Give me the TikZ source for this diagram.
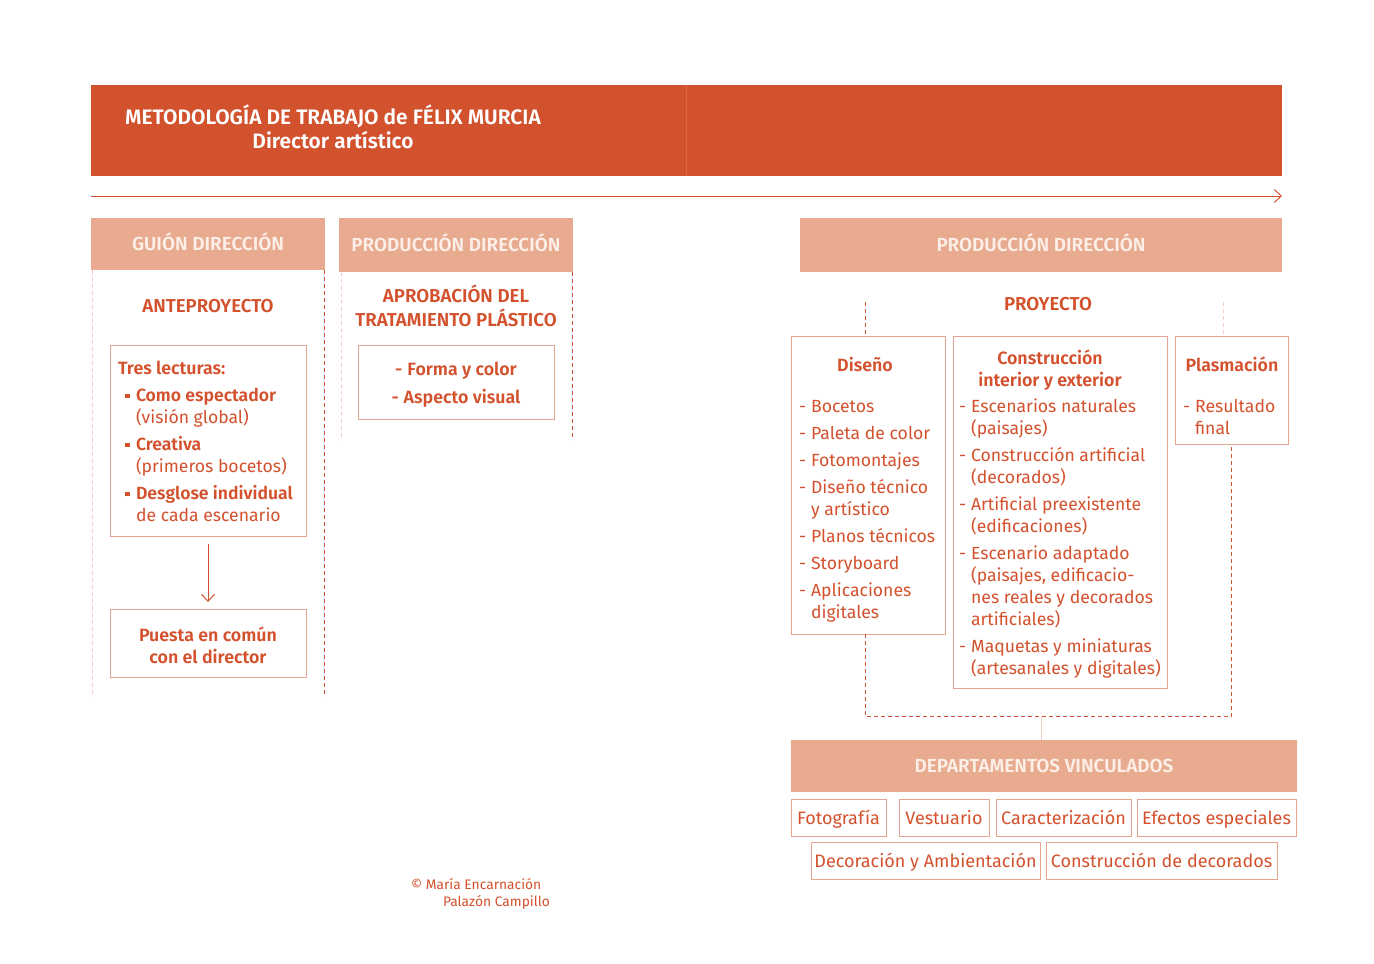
\documentclass[tikz,border=0pt]{standalone}
\usepackage{fontspec}
\setmainfont{Fira Sans}[BoldFont={Fira Sans SemiBold}]
\usetikzlibrary{arrows.meta}
\definecolor{dark}{HTML}{D3522E}
\definecolor{txt}{HTML}{D4512D}
\definecolor{salmon}{HTML}{E9AB8F}
\definecolor{bord}{HTML}{E4A48D}
\definecolor{pale}{HTML}{F2CFC2}
\definecolor{hdrtxt}{HTML}{FCEFE8}
\definecolor{divl}{HTML}{D9633F}
\newcommand{\mytab}[2][c]{\begin{tabular}[t]{@{}#1@{}}#2\end{tabular}}
\newcommand{\sq}{\rule[2.8pt]{4.5pt}{4.5pt}}
\tikzset{
  every node/.style={inner sep=0pt, outer sep=0pt},
  body/.style={font=\fontsize{17.6}{22}\selectfont, text=txt},
  bbody/.style={font=\bfseries\fontsize{17.8}{22}\selectfont, text=txt},
  caps/.style={font=\bfseries\fontsize{18.7}{22}\selectfont, text=txt},
  hd/.style={fill=salmon, draw=none, text=hdrtxt, font=\bfseries\fontsize{18.9}{20}\selectfont,
     text height=12.6pt, text depth=0pt, anchor=north west},
  wbox/.style={draw=bord, line width=1pt, fill=white, anchor=north west},
  dbox/.style={wbox, font=\fontsize{18}{22}\selectfont, text=txt, minimum height=37pt,
     text height=13pt, text depth=0pt},
  dk/.style={draw=dark, line width=1pt, dash pattern=on 4pt off 3pt},
  lt/.style={draw=pale, line width=1pt, dash pattern=on 4pt off 3pt},
  arr/.style={draw=dark, line width=1pt, -{Straight Barb[length=7pt,width=13pt,line width=1pt]}}
}
\begin{document}
\begin{tikzpicture}[x=1pt,y=-1pt]
\useasboundingbox[fill=white] (0,0) rectangle (1374,964);

% header
\node[fill=dark, minimum width=1191pt, minimum height=91pt, anchor=north west] (hdr) at (91,85) {};
\coordinate (dvt) at (686,85); \coordinate (dvb) at (686,176);
\draw[divl, line width=1pt] (dvt) -- (dvb);
\node[anchor=base, text=white, font=\bfseries\fontsize{20.9}{24}\selectfont] (title) at (333,124)
  {\mytab{METODOLOGÍA DE TRABAJO de FÉLIX MURCIA\\Director artístico}};

% time arrow
\coordinate (tl) at (91,196); \coordinate (tr) at (1282,196);
\draw[arr] (tl) -- (tr);

% column headers
\node[hd, minimum width=234pt, minimum height=52pt] (gd) at (91,218) {GUIÓN DIRECCIÓN};
\node[hd, minimum width=234pt, minimum height=54pt] (pd1) at (339,218) {PRODUCCIÓN DIRECCIÓN};
\node[hd, minimum width=482pt, minimum height=54pt] (pd2) at (800,218) {PRODUCCIÓN DIRECCIÓN};

% column guides
\coordinate (c1a) at (92,270); \coordinate (c1b) at (92,697);
\coordinate (c2a) at (324,270); \coordinate (c2b) at (324,697);
\coordinate (c3a) at (341,272); \coordinate (c3b) at (341,440);
\coordinate (c4a) at (572,272); \coordinate (c4b) at (572,440);
\draw[lt] (c1a) -- (c1b);
\draw[dk] (c2a) -- (c2b);
\draw[lt] (c3a) -- (c3b);
\draw[dk] (c4a) -- (c4b);

% column 1
\node[caps, anchor=base] (ante) at (208,312) {ANTEPROYECTO};
\node[wbox, minimum width=196pt, minimum height=191pt] (tres) at (110,345) {};
\node[bbody, anchor=base west] (tresT) at (118,374) {Tres lecturas:};
\node[body, anchor=base west] (tresL) at (125,401) {\begin{tabular}[t]{@{}l@{\hspace{6.5pt}}l@{}}
  \sq & \textbf{Como espectador}\\
      & (visión global)\\[5pt]
  \sq & \textbf{Creativa}\\
      & (primeros bocetos)\\[5pt]
  \sq & \textbf{Desglose individual}\\
      & de cada escenario
  \end{tabular}};
\node[wbox, minimum width=196pt, minimum height=68pt] (puesta) at (110,609) {};
\node[bbody, anchor=base] (puestaT) at (208,641) {\mytab{Puesta en común\\con el director}};
\draw[arr, shorten <=8pt, shorten >=7pt] (tres.south) -- (puesta.north);

% column 2
\node[caps, anchor=base] (aprob) at (456,302) {\mytab{APROBACIÓN DEL\\TRATAMIENTO PLÁSTICO}};
\node[wbox, minimum width=196pt, minimum height=74pt] (forma) at (358,345) {};
\node[bbody, anchor=base] (formaT) at (456,375) {\mytab{-\hspace{5pt}Forma y color\\[6pt]-\hspace{5pt}Aspecto visual}};

% right block
\node[caps, anchor=base] (proy) at (1048,310) {PROYECTO};
\node[wbox, minimum width=154pt, minimum height=298pt] (dis) at (791,336) {};
\node[wbox, minimum width=214pt, minimum height=352pt] (con) at (953,336) {};
\node[wbox, minimum width=113pt, minimum height=108pt] (pla) at (1175,336) {};

\node[bbody, anchor=base] (disT) at (865,371) {Diseño};
\node[bbody, anchor=base] (conT) at (1050,364) {\mytab{Construcción\\interior y exterior}};
\node[bbody, anchor=base] (plaT) at (1232,371) {Plasmación};

\node[body, anchor=base west] (disL) at (799,412) {\begin{tabular}[t]{@{}l@{\hspace{5pt}}l@{}}
  - & Bocetos\\[5pt]
  - & Paleta de color\\[5pt]
  - & Fotomontajes\\[5pt]
  - & Diseño técnico\\
    & y artístico\\[5pt]
  - & Planos técnicos\\[5pt]
  - & Storyboard\\[5pt]
  - & Aplicaciones\\
    & digitales
  \end{tabular}};
\node[body, anchor=base west] (conL) at (959,412) {\begin{tabular}[t]{@{}l@{\hspace{5pt}}l@{}}
  - & Escenarios naturales\\
    & (paisajes)\\[5pt]
  - & Construcción artificial\\
    & (decorados)\\[5pt]
  - & Artificial preexistente\\
    & (edificaciones)\\[5pt]
  - & Escenario adaptado\\
    & (paisajes, edificacio-\\
    & nes reales y decorados\\
    & artificiales)\\[5pt]
  - & Maquetas y miniaturas\\
    & (artesanales y digitales)
  \end{tabular}};
\node[body, anchor=base west] (plaL) at (1183,412) {\begin{tabular}[t]{@{}l@{\hspace{5pt}}l@{}}
  - & Resultado\\
    & final
  \end{tabular}};

% connectors right
\coordinate (dtop) at (865,302); \coordinate (dtopb) at (865,336);
\coordinate (dbot) at (865,634);
\coordinate (ptop) at (1223,302); \coordinate (pbot) at (1223,336);
\draw[dk] (dtop) -- (dtopb);
\draw[lt] (ptop) -- (pbot);
\coordinate (jn) at (865,716);
\draw[dk] (dbot) -- (jn) -| (pla.south);
\coordinate (mj) at (1041,716); \coordinate (mjb) at (1041,740);
\draw[pale, line width=1pt] (mj) -- (mjb);

% departments
\node[hd, minimum width=506pt, minimum height=52pt] (dep) at (791,740) {DEPARTAMENTOS VINCULADOS};
\node[dbox, minimum width=95pt] (d1) at (791,799) {Fotografía};
\node[dbox, minimum width=90pt] (d2) at (899,799) {Vestuario};
\node[dbox, minimum width=135pt] (d3) at (996,799) {Caracterización};
\node[dbox, minimum width=159pt] (d4) at (1137,799) {Efectos especiales};
\node[dbox, minimum width=229pt] (d5) at (811,842) {Decoración y Ambientación};
\node[dbox, minimum width=231pt] (d6) at (1046,842) {Construcción de decorados};

% credit
\node[anchor=base west, text=txt, font=\fontsize{13.8}{17}\selectfont] (cred) at (411,889)
  {\mytab[l]{© María Encarnación\\\hspace{32pt}Palazón Campillo}};
\end{tikzpicture}
\end{document}
